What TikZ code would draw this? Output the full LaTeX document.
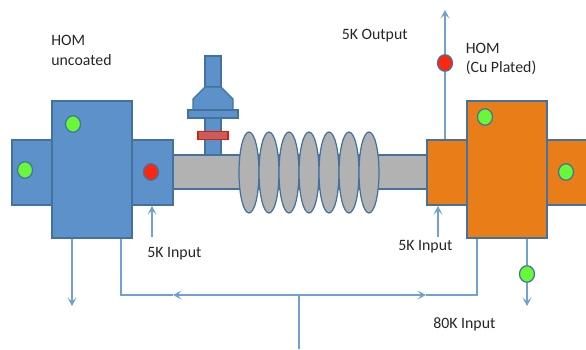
\documentclass[tikz,border=0pt]{standalone}
\usepackage{fontspec}
\setmainfont{Carlito}
\usepackage{xcolor}
\usetikzlibrary{arrows.meta, positioning, shapes.geometric}
\definecolor{coolblue}{RGB}{92,146,201}
\definecolor{edgeblue}{RGB}{68,114,160}
\definecolor{lineblue}{RGB}{112,161,209}
\definecolor{platedcu}{RGB}{233,125,23}
\definecolor{pipegrey}{RGB}{178,178,178}
\definecolor{portgreen}{RGB}{104,248,56}
\definecolor{portred}{RGB}{250,40,16}
\definecolor{clampred}{RGB}{203,92,88}
\tikzset{
  bluebox/.style={draw=edgeblue, fill=coolblue, line width=0.7pt, inner sep=0pt},
  cubox/.style={draw=edgeblue, fill=platedcu, line width=0.7pt, inner sep=0pt},
  portdot/.style={ellipse, draw=edgeblue, line width=0.7pt, inner sep=0pt,
                  minimum width=0.3cm, minimum height=0.33cm},
  flow/.style={draw=lineblue, line width=0.7pt},
  flowtip/.style={flow, -{Stealth[length=1.7mm, width=1.8mm, inset=0.8mm]}},
  lbl/.style={font=\fontsize{9}{11.3}\selectfont, text=black!85, align=left, inner sep=0pt}
}

\begin{document}
\begin{tikzpicture}
  \useasboundingbox (0,0) rectangle (11.72,6.98);

  % beam pipe and bellows
  \node[draw=edgeblue, fill=pipegrey, line width=0.7pt, minimum width=5.08cm,
        minimum height=0.68cm, inner sep=0pt] (pipe) at (6.0,3.54) {};
  \foreach \i in {0,...,6} {
    \node[ellipse, draw=edgeblue, fill=pipegrey, line width=0.7pt, inner sep=0pt,
          minimum width=0.4cm, minimum height=1.62cm] (bell\i) at ({4.98+0.4*\i},3.53) {};
  }

  % tuner on top of the pipe
  \node[bluebox, minimum width=0.32cm, minimum height=0.74cm] (stemlow) at (4.26,4.25) {};
  \node[bluebox, minimum width=0.32cm, minimum height=0.62cm] (stemtop) at (4.26,5.55) {};
  \draw[bluebox] (4.1,5.24) -- (4.42,5.24) -- (4.66,5.0) -- (4.66,4.78)
        -- (3.86,4.78) -- (3.86,5.0) -- cycle;
  \node[bluebox, minimum width=1.0cm, minimum height=0.16cm] (collar) at (4.26,4.70) {};
  \node[draw=portred!85!black, fill=clampred, line width=0.7pt,
        minimum width=0.6cm, minimum height=0.15cm, inner sep=0pt] (clamp) at (4.26,4.27) {};

  % uncoated HOM side
  \node[bluebox, minimum width=0.8cm, minimum height=1.3cm] (flangeLo) at (0.64,3.53) {};
  \node[bluebox, minimum width=0.82cm, minimum height=1.3cm] (flangeLi) at (3.05,3.53) {};
  \node[bluebox, minimum width=1.6cm, minimum height=2.74cm] (homL) at (1.84,3.59) {};

  % plated HOM side
  \node[cubox, minimum width=0.8cm, minimum height=1.3cm] (flangeRi) at (8.94,3.53) {};
  \node[cubox, minimum width=0.86cm, minimum height=1.3cm] (flangeRo) at (11.37,3.53) {};
  \node[cubox, minimum width=1.6cm, minimum height=2.74cm] (homR) at (10.14,3.59) {};

  % cooling ports
  \node[portdot, fill=portgreen] (dotLtop) at (1.46,4.5) {};
  \node[portdot, fill=portgreen] (dotLout) at (0.5,3.58) {};
  \node[portdot, fill=portred] (dotLin) at (3.02,3.54) {};
  \node[portdot, fill=portgreen] (dotRtop) at (9.7,4.64) {};
  \node[portdot, fill=portgreen] (dotRout) at (11.32,3.54) {};
  \node[portdot, fill=portred] (dotOut) at (8.9,5.72) {};
  \node[portdot, fill=portgreen] (dotRlow) at (10.54,1.5) {};

  % free ends of the lines
  \coordinate (tipOut) at (8.9,6.78);
  \coordinate (tipLin) at (3.04,2.86);
  \coordinate (tailLin) at (3.04,2.24);
  \coordinate (tipRin) at (8.76,2.86);
  \coordinate (tailRin) at (8.76,2.24);
  \coordinate (tipLdown) at (1.44,0.86);
  \coordinate (tipRdown) at (10.54,0.86);
  \coordinate (busL) at (2.42,1.08);
  \coordinate (busR) at (9.54,1.08);
  \coordinate (busC) at (5.98,1.08);
  \coordinate (busFeed) at (5.98,0);
  \coordinate (busTipL) at (3.46,1.08);
  \coordinate (busTipR) at (8.52,1.08);

  % 5K lines
  \draw[flow] (flangeRi.north -| dotOut) -- (dotOut);
  \draw[flowtip] (dotOut) -- (tipOut);
  \draw[flowtip] (tailLin) -- (tipLin);
  \draw[flowtip] (tailRin) -- (tipRin);

  % 80K lines
  \draw[flowtip] (homL.south -| tipLdown) -- (tipLdown);
  \draw[flow] (homR.south -| dotRlow) -- (dotRlow);
  \draw[flowtip] (dotRlow) -- (tipRdown);
  \draw[flow] (busFeed) -- (busC);
  \draw[flowtip] (busC) -- (busTipL);
  \draw[flowtip] (busC) -- (busTipR);
  \draw[flow] (busTipL) -- (busL) -- (homL.south -| busL);
  \draw[flow] (busTipR) -- (busR) -- (homR.south -| busR);

  % labels
  \node[lbl, anchor=west] (lblL) at (1.02,5.98) {HOM\\uncoated};
  \node[lbl, anchor=west] (lblR) at (9.31,5.8) {HOM\\(Cu Plated)};
  \node[lbl, anchor=west] (lblOut) at (6.83,6.27) {5K Output};
  \node[lbl, anchor=west] (lblLin) at (2.94,1.91) {5K Input};
  \node[lbl, anchor=west] (lblRin) at (7.96,2.05) {5K Input};
  \node[lbl, anchor=west] (lbl80) at (8.66,0.5) {80K Input};
\end{tikzpicture}
\end{document}
